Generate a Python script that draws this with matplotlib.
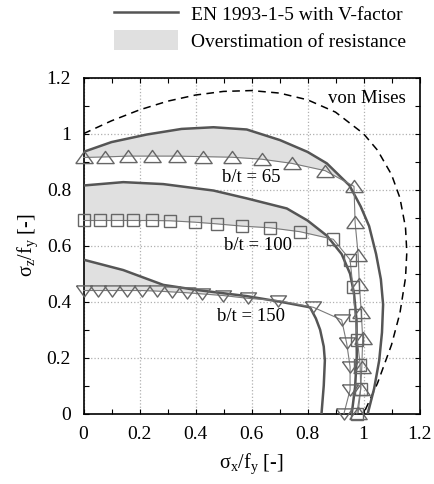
import numpy as np
import matplotlib
matplotlib.use("Agg")
import matplotlib.pyplot as plt
from matplotlib.lines import Line2D
from matplotlib.patches import Patch

plt.rcParams['font.family'] = ['Liberation Serif', 'DejaVu Serif']
plt.rcParams['mathtext.fontset'] = 'custom'
plt.rcParams['mathtext.rm'] = 'Liberation Serif'
plt.rcParams['mathtext.it'] = 'Liberation Serif:italic'

# ---------------- data ----------------
# von Mises yield surface
vm_x = [0.0, 0.1, 0.2, 0.3, 0.4, 0.5, 0.6, 0.7, 0.8, 0.9, 1.0, 1.05, 1.1, 1.13, 1.15, 1.1547,
        1.15, 1.13, 1.1, 1.05, 1.0]
vm_y = [1.0, 1.046, 1.085, 1.116, 1.138, 1.151, 1.154, 1.145, 1.121, 1.077, 1.0, 0.941, 0.854,
        0.771, 0.665, 0.577, 0.485, 0.359, 0.246, 0.109, 0.0]

# EN 1993-1-5 with V-factor
en65_x = [0.0, 0.1, 0.226, 0.35, 0.464, 0.583, 0.702, 0.8, 0.869, 0.95,
          0.99, 1.02, 1.045, 1.062, 1.07, 1.066, 1.056, 1.038, 1.015]
en65_y = [0.935, 0.97, 0.997, 1.017, 1.023, 1.015, 0.977, 0.935, 0.894, 0.815,
          0.74, 0.67, 0.57, 0.48, 0.39, 0.29, 0.19, 0.09, 0.0]
en65_ntop = 10

en100_x = [0.0, 0.142, 0.285, 0.464, 0.583, 0.726, 0.8, 0.87, 0.922, 0.952, 0.966,
           0.975, 0.976, 0.970, 0.958]
en100_y = [0.815, 0.827, 0.82, 0.797, 0.769, 0.733, 0.69, 0.635, 0.57, 0.5, 0.43,
           0.335, 0.204, 0.096, 0.0]
en100_ntop = 9

en150_x = [0.0, 0.142, 0.285, 0.404, 0.583, 0.702, 0.809, 0.83, 0.845, 0.858, 0.862,
           0.858, 0.85]
en150_y = [0.55, 0.513, 0.46, 0.442, 0.42, 0.4, 0.38, 0.34, 0.3, 0.24, 0.19,
           0.1, 0.0]
en150_ntop = 7

# numerical results (markers)
m65_x = [0.0, 0.077, 0.16, 0.243, 0.333, 0.428, 0.529, 0.636, 0.744, 0.863, 0.966,
         0.970, 0.981, 0.985, 0.992, 0.997, 0.994, 0.990, 0.981]
m65_y = [0.915, 0.917, 0.920, 0.920, 0.920, 0.918, 0.916, 0.909, 0.894, 0.868, 0.812,
         0.683, 0.567, 0.463, 0.364, 0.269, 0.168, 0.088, 0.004]
m65_ntop = 11

m100_x = [0.0, 0.059, 0.119, 0.178, 0.244, 0.309, 0.398, 0.476, 0.565, 0.666, 0.773,
          0.892, 0.952, 0.962, 0.970, 0.978, 0.988, 0.990, 0.976]
m100_y = [0.69, 0.69, 0.69, 0.69, 0.69, 0.689, 0.684, 0.678, 0.67, 0.664, 0.65,
          0.623, 0.55, 0.454, 0.354, 0.265, 0.174, 0.09, 0.0]
m100_ntop = 12

m150_x = [0.0, 0.053, 0.1, 0.154, 0.208, 0.261, 0.315, 0.369, 0.422, 0.499, 0.589,
          0.696, 0.821, 0.922, 0.94, 0.952, 0.952, 0.93]
m150_y = [0.44, 0.44, 0.44, 0.44, 0.44, 0.438, 0.435, 0.432, 0.428, 0.422, 0.412,
          0.404, 0.38, 0.335, 0.251, 0.168, 0.085, 0.0]
m150_ntop = 13

ticks = [0, 0.2, 0.4, 0.6, 0.8, 1.0, 1.2]
tick_labels = ['0', '0.2', '0.4', '0.6', '0.8', '1', '1.2']

labels_bt = ['b/t = 65', 'b/t = 100', 'b/t = 150']
legend_labels = ['EN 1993-1-5 with V-factor', 'Overstimation of resistance']

# ---------------- plot ----------------
fig = plt.figure(figsize=(4.34, 4.84), dpi=100)
ax = fig.add_axes([0.1924, 0.1452, 0.7742, 0.6943])

EN_COL = '#555555'
MK_COL = '#7a7a7a'
FILL_COL = '#e0e0e0'

def fill_over(enx, eny, nen, mkx, mky, nmk):
    ex = np.array(enx[:nen]); ey = np.array(eny[:nen])
    mx = np.array(mkx[:nmk]); my = np.array(mky[:nmk])
    xmax = min(ex.max(), mx.max())
    grid = np.union1d(np.linspace(0, xmax, 200), np.concatenate([ex[ex <= xmax], mx[mx <= xmax]]))
    e = np.interp(grid, ex, ey)
    m = np.interp(grid, mx, my)
    ax.fill_between(grid, m, e, where=e > m, interpolate=True, color=FILL_COL, lw=0, zorder=1)

fill_over(en65_x, en65_y, en65_ntop, m65_x, m65_y, m65_ntop)
fill_over(en100_x, en100_y, en100_ntop, m100_x, m100_y, m100_ntop)
fill_over(en150_x, en150_y, en150_ntop, m150_x, m150_y, m150_ntop)

ax.grid(True, which='major', color='#b0b0b0', linestyle=':', linewidth=0.9)
ax.set_axisbelow(True)

ax.plot(vm_x, vm_y, color='black', lw=1.1, ls=(0, (5, 3.5)), zorder=3)

for x, y in [(en65_x, en65_y), (en100_x, en100_y), (en150_x, en150_y)]:
    ax.plot(x, y, color=EN_COL, lw=1.8, zorder=4, solid_joinstyle='round')

tri_up = [(-1, -0.7), (1, -0.7), (0, 0.7), (-1, -0.7)]
tri_dn = [(-1, 0.7), (1, 0.7), (0, -0.7), (-1, 0.7)]
ax.plot(m65_x, m65_y, color=MK_COL, lw=0.8, marker=tri_up, ms=12.5, mfc='none',
        mec='#666666', mew=1.0, zorder=5, clip_on=False)
ax.plot(m100_x, m100_y, color=MK_COL, lw=0.8, marker='s', ms=8.5, mfc='none',
        mec='#666666', mew=1.0, zorder=5, clip_on=False)
ax.plot(m150_x, m150_y, color=MK_COL, lw=0.8, marker=tri_dn, ms=11.5, mfc='none',
        mec='#666666', mew=1.0, zorder=5, clip_on=False)

ax.text(1.0125, 1.127, 'von Mises', ha='center', va='center', fontsize=13.5)
ax.text(0.60, 0.845, labels_bt[0], ha='center', va='center', fontsize=13.5)
ax.text(0.623, 0.602, labels_bt[1], ha='center', va='center', fontsize=13.5)
ax.text(0.598, 0.346, labels_bt[2], ha='center', va='center', fontsize=13.5)

ax.set_xlim(0, 1.2)
ax.set_ylim(0, 1.2)
ax.set_xticks(ticks)
ax.set_xticklabels(tick_labels)
ax.set_yticks(ticks)
ax.set_yticklabels(tick_labels)
ax.set_xticks(np.arange(0, 1.21, 0.1), minor=True)
ax.set_yticks(np.arange(0, 1.21, 0.1), minor=True)
ax.tick_params(which='both', direction='in', top=True, right=True, length=3.5, width=0.8,
               labelsize=14, pad=9)
for s in ax.spines.values():
    s.set_linewidth(1.2)

ax.set_xlabel(r'$\mathrm{\sigma_x/f_y}$ [-]', fontsize=14.5, labelpad=6)
ax.set_ylabel(r'$\mathrm{\sigma_z/f_y}$ [-]', fontsize=14.5, labelpad=5)

handles = [Line2D([], [], color=EN_COL, lw=1.8), Patch(facecolor=FILL_COL, edgecolor='none')]
fig.legend(handles, legend_labels, loc='upper left', bbox_to_anchor=(0.245, 1.008),
           frameon=False, fontsize=14, handlelength=3.3, handleheight=1.2,
           handletextpad=0.65, labelspacing=0.3, borderaxespad=0)

fig.savefig('out.png', dpi=100)
